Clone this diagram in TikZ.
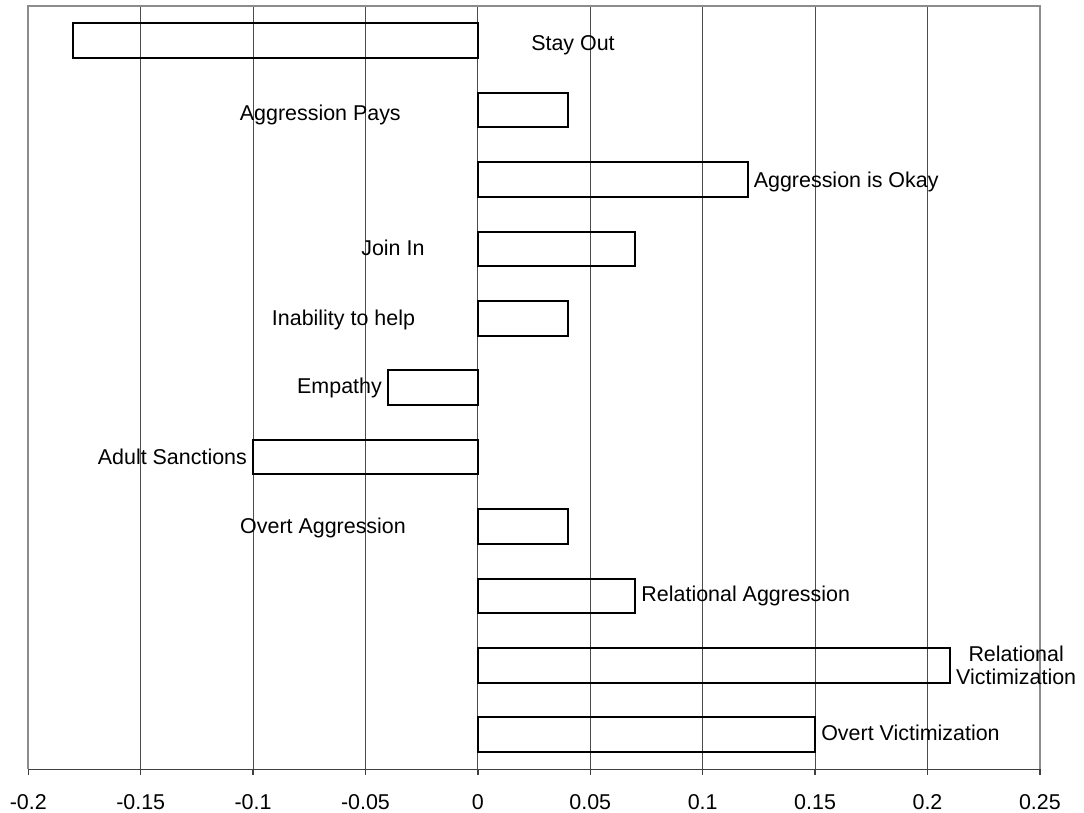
\documentclass[tikz,border=0pt]{standalone}
\usepackage{fontspec}
\setmainfont{Liberation Sans}
\usepackage{tikz}
\usetikzlibrary{positioning}

\tikzset{
	gridline/.style={line width=0.57pt, black!70},
	frameline/.style={line width=1.14pt, black!45},
	axisline/.style={line width=0.85pt, black!75},
	bar/.style={line width=1.14pt, black},
	lbl/.style={font=\fontsize{12.2}{13.2}\selectfont},
}

\begin{document}
\begin{tikzpicture}[x=44.96cm, y=1.388cm]

	\useasboundingbox (-0.21259,0.0865) rectangle (0.26962,-11.628);

	% Grid
	\draw[gridline] (-0.15,0) -- (-0.15,-11);
	\draw[gridline] (-0.10,0) -- (-0.10,-11);
	\draw[gridline] (-0.05,0) -- (-0.05,-11);
	\draw[gridline] ( 0.00,0) -- ( 0.00,-11);
	\draw[gridline] ( 0.05,0) -- ( 0.05,-11);
	\draw[gridline] ( 0.10,0) -- ( 0.10,-11);
	\draw[gridline] ( 0.15,0) -- ( 0.15,-11);
	\draw[gridline] ( 0.20,0) -- ( 0.20,-11);

	% Frame
	\draw[frameline] (-0.2,-11) -- (-0.2,0) -- (0.25,0) -- (0.25,-11);

	% Axis
	\draw[axisline] (-0.2,-11) -- (0.25,-11);
	\draw[axisline] (-0.20,-11) -- (-0.20,-11.0865);
	\draw[axisline] (-0.15,-11) -- (-0.15,-11.0865);
	\draw[axisline] (-0.10,-11) -- (-0.10,-11.0865);
	\draw[axisline] (-0.05,-11) -- (-0.05,-11.0865);
	\draw[axisline] ( 0.00,-11) -- ( 0.00,-11.0865);
	\draw[axisline] ( 0.05,-11) -- ( 0.05,-11.0865);
	\draw[axisline] ( 0.10,-11) -- ( 0.10,-11.0865);
	\draw[axisline] ( 0.15,-11) -- ( 0.15,-11.0865);
	\draw[axisline] ( 0.20,-11) -- ( 0.20,-11.0865);
	\draw[axisline] ( 0.25,-11) -- ( 0.25,-11.0865);

	% Tick labels
	\node[lbl] (tm20) at (-0.20,-11.47) {-0.2};
	\node[lbl] (tm15) at (-0.15,-11.47) {-0.15};
	\node[lbl] (tm10) at (-0.10,-11.47) {-0.1};
	\node[lbl] (tm05) at (-0.05,-11.47) {-0.05};
	\node[lbl] (t00)  at ( 0.00,-11.47) {0};
	\node[lbl] (t05)  at ( 0.05,-11.47) {0.05};
	\node[lbl] (t10)  at ( 0.10,-11.47) {0.1};
	\node[lbl] (t15)  at ( 0.15,-11.47) {0.15};
	\node[lbl] (t20)  at ( 0.20,-11.47) {0.2};
	\node[lbl] (t25)  at ( 0.25,-11.47) {0.25};

	% Bars
	\draw[bar] (0,-0.25)  rectangle (-0.18,-0.75);
	\draw[bar] (0,-1.25)  rectangle ( 0.04,-1.75);
	\draw[bar] (0,-2.25)  rectangle ( 0.12,-2.75);
	\draw[bar] (0,-3.25)  rectangle ( 0.07,-3.75);
	\draw[bar] (0,-4.25)  rectangle ( 0.04,-4.75);
	\draw[bar] (0,-5.25)  rectangle (-0.04,-5.75);
	\draw[bar] (0,-6.25)  rectangle (-0.10,-6.75);
	\draw[bar] (0,-7.25)  rectangle ( 0.04,-7.75);
	\draw[bar] (0,-8.25)  rectangle ( 0.07,-8.75);
	\draw[bar] (0,-9.25)  rectangle ( 0.21,-9.75);
	\draw[bar] (0,-10.25) rectangle ( 0.15,-10.75);

	% Labels
	\node[lbl] (stayout) at (0.0423,-0.565) {Stay Out};
	\node[lbl] (aggpays) at (-0.0701,-1.57) {Aggression Pays};
	\node[lbl, right] (aggokay) at (0.12,-2.53) {Aggression is Okay};
	\node[lbl] (joinin) at (-0.0378,-3.48) {Join In};
	\node[lbl] (inability) at (-0.0598,-4.52) {Inability to help};
	\node[lbl, left] (empathy) at (-0.04,-5.5) {Empathy};
	\node[lbl, left] (sanctions) at (-0.10,-6.5) {Adult Sanctions};
	\node[lbl] (overtagg) at (-0.0689,-7.52) {Overt Aggression};
	\node[lbl, right] (relagg) at (0.07,-8.5) {Relational Aggression};
	\node[lbl, right, align=center] (relvict) at (0.21,-9.5) {Relational\\Victimization};
	\node[lbl, right] (overtvict) at (0.15,-10.48) {Overt Victimization};

\end{tikzpicture}
\end{document}
